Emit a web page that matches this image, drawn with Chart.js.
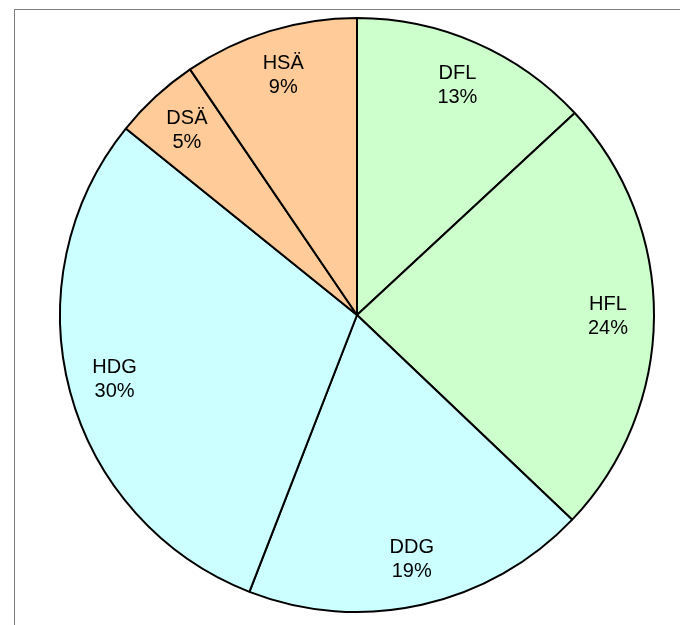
<!DOCTYPE html>
<html>
<head>
<meta charset="utf-8">
<script src="https://cdn.jsdelivr.net/npm/chart.js@4.4.1/dist/chart.umd.min.js"></script>
<style>
	html, body { margin: 0; padding: 0; background: #fff; }
	#wrap { position: relative; width: 680px; height: 625px; overflow: hidden; }
	#frame {
		position: absolute; left: 14px; top: 9px; width: 700px; height: 700px;
		border-top: 1px solid #808080; border-left: 1px solid #808080;
	}
	#pieChart { position: absolute; left: 0; top: 0; }
</style>
</head>
<body>
<div id="wrap">
	<div id="frame"></div>
	<canvas id="pieChart" width="680" height="625"></canvas>
</div>
<script>
const categories = ["DFL", "HFL", "DDG", "HDG", "DSÄ", "HSÄ"];
// slice sizes (percent of the whole)
const shares = [13.1, 24.0, 18.8, 29.9, 4.7, 9.5];
// percent labels as printed on the slices
const percentLabels = ["13%", "24%", "19%", "30%", "5%", "9%"];
const sliceColors = ["#ccffcc", "#ccffcc", "#ccffff", "#ccffff", "#ffcc99", "#ffcc99"];

document.addEventListener("DOMContentLoaded", function () {
	const ctx = document.getElementById("pieChart");

	// labels inside each slice: name on top, percent below
	const sliceLabels = {
		id: "sliceLabels",
		afterDatasetsDraw(chart) {
			const c = chart.ctx;
			const meta = chart.getDatasetMeta(0);
			c.save();
			c.font = "20px 'Liberation Sans', Arial, sans-serif";
			c.fillStyle = "#000";
			c.textAlign = "center";
			c.textBaseline = "middle";
			meta.data.forEach((arc, i) => {
				const p = arc.getProps(["x", "y", "startAngle", "endAngle", "outerRadius"], true);
				const mid = (p.startAngle + p.endAngle) / 2;
				const r = p.outerRadius * 0.845;
				const x = p.x + Math.cos(mid) * r;
				const y = p.y + Math.sin(mid) * r;
				c.fillText(categories[i], x, y - 12);
				c.fillText(percentLabels[i], x, y + 12);
			});
			c.restore();
		},
	};

	new Chart(ctx, {
		type: "pie",
		data: {
			labels: categories,
			datasets: [
				{
					data: shares,
					backgroundColor: sliceColors,
					borderColor: "#000",
					borderWidth: 2,
					hoverOffset: 0,
				},
			],
		},
		options: {
			responsive: false,
			animation: false,
			radius: 297,
			layout: { padding: { left: 34, right: 0, top: 5, bottom: 0 } },
			plugins: {
				legend: { display: false },
				tooltip: { enabled: false },
			},
		},
		plugins: [sliceLabels],
	});
});
</script>
</body>
</html>
